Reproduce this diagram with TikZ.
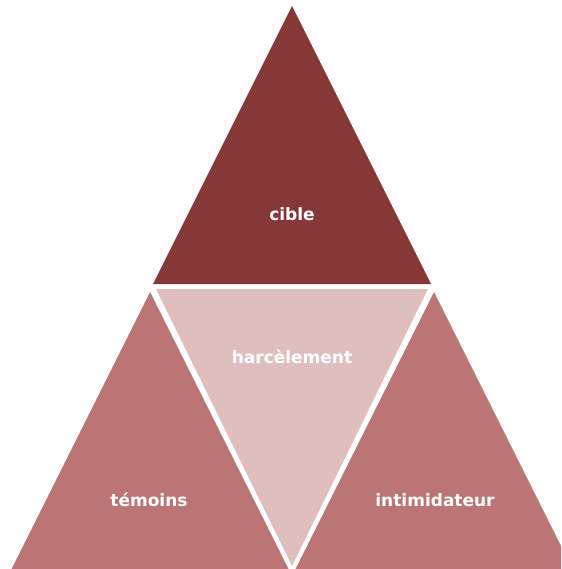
\documentclass[tikz,border=0pt]{standalone}
\usepackage{fontspec}
\setmainfont{DejaVu Sans}
\definecolor{cdark}{HTML}{863838}
\definecolor{cmid}{HTML}{BA7574}
\definecolor{clight}{HTML}{DFBFBE}
\begin{document}
\begin{tikzpicture}[x=1pt,y=-1pt,
  lbl/.style={text=white,font=\fontsize{17}{20}\selectfont\bfseries,inner sep=0pt}]
\useasboundingbox (0,0) rectangle (561,569);
\clip (0,0) rectangle (561,569);
\fill[cdark] (292,6) -- (153,284) -- (431,284) -- cycle;
\fill[clight] (156,289) -- (428,289) -- (292,566) -- cycle;
\fill[cmid] (150,292) -- (11,570) -- (289,570) -- cycle;
\fill[cmid] (434,292) -- (295,570) -- (573,570) -- cycle;
\node[lbl] (cible) at (292,214) {cible};
\node[lbl] (harc) at (292,357) {harcèlement};
\node[lbl] (temoins) at (149,500) {témoins};
\node[lbl] (intim) at (435,500) {intimidateur};
\end{tikzpicture}
\end{document}
